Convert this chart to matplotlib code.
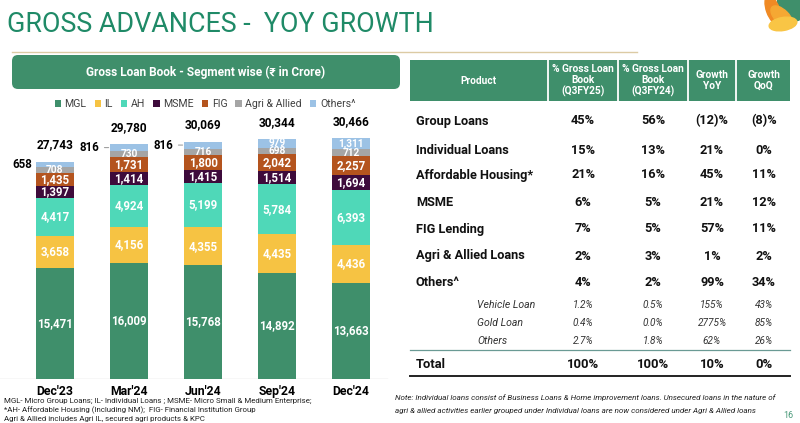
import matplotlib
matplotlib.use("Agg")
import matplotlib.pyplot as plt
from matplotlib.patches import Rectangle, FancyBboxPatch, Ellipse, Patch
import numpy as np

plt.rcParams['font.family'] = ['Roboto', 'DejaVu Sans']

# ---------------- data ----------------
quarters = ["Dec'23", "Mar'24", "Jun'24", "Sep'24", "Dec'24"]
segments = ["MGL", "IL", "AH", "MSME", "FIG", "Agri & Allied", "Others^"]
mgl = [15471, 16009, 15768, 14892, 13663]
il = [3658, 4156, 4355, 4435, 4436]
ah = [4417, 4924, 5199, 5784, 6393]
msme = [1397, 1414, 1415, 1514, 1694]
fig_lending = [1435, 1731, 1800, 2042, 2257]
agri = [708, 730, 716, 698, 712]
others = [658, 816, 816, 979, 1311]
totals = [27743, 29780, 30069, 30344, 30466]

table_header = ["Product", "% Gross Loan\nBook\n(Q3FY25)", "% Gross Loan\nBook\n(Q3FY24)",
                "Growth\nYoY", "Growth\nQoQ"]
table_products = ["Group Loans", "Individual Loans", "Affordable Housing*", "MSME",
                  "FIG Lending", "Agri & Allied Loans", "Others^"]
share_q3fy25 = ["45%", "15%", "21%", "6%", "7%", "2%", "4%"]
share_q3fy24 = ["56%", "13%", "16%", "5%", "5%", "3%", "2%"]
growth_yoy = ["(12)%", "21%", "45%", "21%", "57%", "1%", "99%"]
growth_qoq = ["(8)%", "0%", "11%", "12%", "11%", "2%", "34%"]
sub_products = ["Vehicle Loan", "Gold Loan", "Others"]
sub_q3fy25 = ["1.2%", "0.4%", "2.7%"]
sub_q3fy24 = ["0.5%", "0.0%", "1.8%"]
sub_yoy = ["155%", "2775%", "62%"]
sub_qoq = ["43%", "85%", "26%"]
total_row = ["Total", "100%", "100%", "10%", "0%"]

series = [mgl, il, ah, msme, fig_lending, agri, others]
colors = ['#3f8f6b', '#f6c343', '#4fd8b8', '#3e0b3b', '#b4541e', '#a5a5a5', '#9cc2e5']

W, H = 800, 423
fig = plt.figure(figsize=(W / 100, H / 100), dpi=100)

# overlay axes in pixel coordinates
ov = fig.add_axes([0, 0, 1, 1])
ov.set_xlim(0, W)
ov.set_ylim(H, 0)
ov.axis('off')
ov.patch.set_visible(False)

# title
ov.text(7, 32, "GROSS ADVANCES -  YOY GROWTH", fontsize=19.4, color='#1f8a67',
        ha='left', va='baseline')
ov.plot([12, 637], [52, 52], color='#dccba4', lw=1)

# logo
ov.add_patch(Ellipse((791, 5), 24, 34, angle=-30, color='#3f8f6b', zorder=1))
ov.add_patch(Ellipse((773, 10), 13, 30, angle=-20, color='#f08a24', zorder=2))
ov.add_patch(Ellipse((782, 17), 14, 28, angle=-45, color='#f5a833', zorder=3))
ov.add_patch(Ellipse((783, 24), 28, 13, angle=-10, color='#f9c545', zorder=4))

# green box
ov.add_patch(FancyBboxPatch((12, 55), 388, 34, boxstyle="round,pad=0,rounding_size=6",
                            fc='#3f8f6b', ec='none'))
ov.text(206, 72.5, "Gross Loan Book - Segment wise (\u20b9 in Crore)", color='white',
        fontsize=8.6, fontweight='bold', ha='center', va='center')

# ---------------- bar chart ----------------
ax_left, ax_right, ax_top, ax_bottom = 0, 390, 115, 379
ymin, units_per_px = 2550, 115.9
ax = fig.add_axes([ax_left / W, 1 - ax_bottom / H, (ax_right - ax_left) / W,
                   (ax_bottom - ax_top) / H])
ax.set_ylim(ymin, ymin + (ax_bottom - ax_top) * units_per_px)
ax.set_xlim(-55 / 74, (390 - 55) / 74)
ax.axis('off')
ax.patch.set_visible(False)
x = np.arange(len(quarters))
bottom = np.zeros(len(quarters))
bw = 38 / 74
for si, (vals, c, name) in enumerate(zip(series, colors, segments)):
    vals = np.array(vals, dtype=float)
    ax.bar(x, vals, bw, bottom=bottom, color=c, label=name, zorder=2)
    small = name in ("Agri & Allied", "Others^")
    fs = 7.3 if small else 8.3
    for i, v in enumerate(vals):
        lo = max(bottom[i], ymin)
        cy = (lo + bottom[i] + v) / 2
        txt = f"{int(v):,}"
        if name == "Others^" and i < 3:
            if i == 0:
                ax.annotate(txt, (x[i] - bw / 2, cy), xytext=(-2.5, 0),
                            textcoords='offset points', ha='right', va='center',
                            fontsize=8.3, fontweight='bold', color='black')
            else:
                ax.annotate(txt, (x[i] - bw / 2, cy), xytext=(-7.5, 0),
                            textcoords='offset points', ha='right', va='center',
                            fontsize=8.3, fontweight='bold', color='black',
                            arrowprops=dict(arrowstyle='-', color='#a0a0a0', lw=0.8,
                                            shrinkA=1.5, shrinkB=1))
        else:
            ax.text(x[i], cy, txt, ha='center', va='center', color='white',
                    fontsize=fs, fontweight='bold', zorder=3)
    bottom += vals

for i, t in enumerate(totals):
    ax.annotate(f"{t:,}", (x[i], bottom[i]), xytext=(0, 12), textcoords='offset points',
                ha='center', va='center', fontsize=8.6, fontweight='bold', color='black')

ax.axhline(ymin, xmin=0, xmax=387 / 390, color='#d9d9d9', lw=1, zorder=1)
for i, q in enumerate(quarters):
    ax.annotate(q, (x[i], ymin), xytext=(0, -9), textcoords='offset points',
                ha='center', va='center', fontsize=8.8, fontweight='bold', color='black')

leg_handles = [Patch(facecolor=c, edgecolor='none') for c in colors]
fig.legend(leg_handles, segments, loc='center', bbox_to_anchor=(205 / W, 1 - 104 / H),
           ncol=7, frameon=False, fontsize=7.6, handlelength=0.6, handleheight=0.6,
           handletextpad=0.35, columnspacing=0.75, labelcolor='#404040')

# ---------------- table ----------------
tx0, tx1 = 410, 790
col_edges = [410, 548, 618, 688, 736, 790]
col_centers = [478, 583, 653, 712, 764]
ov.add_patch(Rectangle((tx0, 60), tx1 - tx0, 41, fc='#3f8f6b', ec='none'))
for xe in col_edges[1:-1]:
    ov.plot([xe, xe], [60, 101], color='white', lw=1.3)
for j, h in enumerate(table_header):
    ov.text(col_centers[j], 80.5, h, color='white', fontsize=7.3, fontweight='bold',
            ha='center', va='center', linespacing=1.15)

row_y = [121, 150, 175, 202, 229, 256, 283]
for r, (p, a, b, c, d) in enumerate(zip(table_products, share_q3fy25, share_q3fy24,
                                         growth_yoy, growth_qoq)):
    y = row_y[r]
    ov.text(416, y, p, fontsize=9.2, fontweight='bold', ha='left', va='center', color='#111')
    for j, v in enumerate([a, b, c, d]):
        ov.text(col_centers[j + 1], y, v, fontsize=9.2, fontweight='bold', ha='center',
                va='center', color='#111')

sub_y = [305, 323, 341]
for r, (p, a, b, c, d) in enumerate(zip(sub_products, sub_q3fy25, sub_q3fy24, sub_yoy,
                                         sub_qoq)):
    y = sub_y[r]
    ov.text(477, y, p, fontsize=7.6, style='italic', ha='left', va='center', color='#333')
    for j, v in enumerate([a, b, c, d]):
        ov.text(col_centers[j + 1], y, v, fontsize=7.2, style='italic', ha='center',
                va='center', color='#333')

ov.plot([tx0, tx1], [350, 350], color='#6a9a94', lw=0.9)
ov.text(416, 364, total_row[0], fontsize=9.4, fontweight='bold', ha='left', va='center',
        color='#111')
for j, v in enumerate(total_row[1:]):
    ov.text(col_centers[j + 1], 364, v, fontsize=9.4, fontweight='bold', ha='center',
            va='center', color='#111')
ov.plot([tx0, tx1], [376.5, 376.5], color='#222', lw=1.4)

# notes
ov.text(395, 398, "Note: Individual loans consist of Business Loans & Home improvement loans. "
        "Unsecured loans in the nature of", fontsize=5.75, style='italic', ha='left',
        va='center', color='#222')
ov.text(395, 411, "agri & allied activities earlier grouped under Individual loans are now "
        "considered under Agri & Allied loans", fontsize=5.75, style='italic', ha='left',
        va='center', color='#222')
ov.text(788, 415, "16", fontsize=6.5, ha='center', va='center', color='#4a9a7a')

ov.text(4, 401, "MGL- Micro Group Loans; IL- Individual Loans ; MSME- Micro Small & Medium "
        "Enterprise;", fontsize=5.7, ha='left', va='center', color='#222')
ov.text(4, 410, "*AH- Affordable Housing (Including NM);  FIG- Financial Institution Group",
        fontsize=5.7, ha='left', va='center', color='#222')
ov.text(4, 419.5, "Agri & Allied includes Agri IL, secured agri products & KPC",
        fontsize=5.7, ha='left', va='center', color='#222')

fig.savefig("out.png", dpi=100)
